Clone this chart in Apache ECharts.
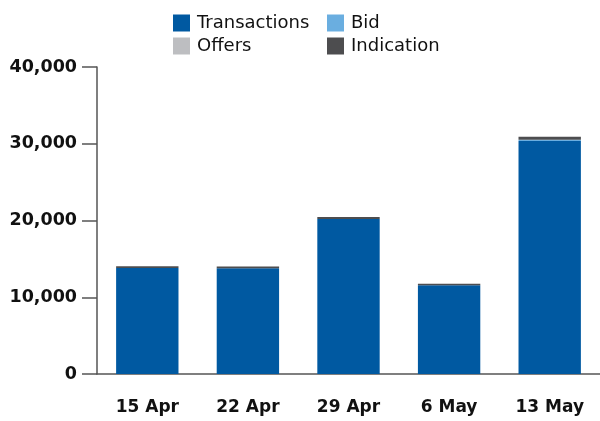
<!DOCTYPE html>
<html>
<head>
<meta charset="utf-8">
<title>Weekly volumes</title>
<style>
  html, body { margin: 0; padding: 0; background: #fff; }
  #chart { width: 600px; height: 421px; }
</style>
<script src="https://cdn.jsdelivr.net/npm/echarts@6/dist/echarts.min.js"></script>
</head>
<body>
<div id="chart"></div>
<script>
// weeks on the x axis
var weeks = ['15 Apr', '22 Apr', '29 Apr', '6 May', '13 May'];

// stacked values, bottom to top
var transactions = [13810, 13790, 20200, 11560, 30360];
var bid = [0, 0, 0, 0, 160];
var offers = [0, 0, 0, 0, 0];
var indication = [220, 220, 260, 210, 390];

var yTicks = [0, 10000, 20000, 30000, 40000];

var colors = {
  Transactions: '#0059a1',
  Bid: '#6aaee0',
  Offers: '#bdbec1',
  Indication: '#4d4d4f'
};

var font = 'DejaVu Sans';

function bar(name, values) {
  return {
    name: name,
    type: 'bar',
    stack: 'total',
    barWidth: '62%',
    itemStyle: { color: colors[name] },
    data: values
  };
}

var legendBase = {
  orient: 'vertical',
  top: 9,
  itemWidth: 17,
  itemHeight: 17,
  itemGap: 5,
  icon: 'rect',
  textStyle: { fontFamily: font, fontSize: 18, color: '#111', padding: [0, 0, 0, 2] }
};

var chart = echarts.init(document.getElementById('chart'));
chart.setOption({
  animation: false,
  legend: [
    Object.assign({}, legendBase, { left: 168, data: ['Transactions', 'Offers'] }),
    Object.assign({}, legendBase, { left: 322, data: ['Bid', 'Indication'] })
  ],
  grid: { left: 97, right: 0, top: 67, bottom: 47 },
  xAxis: {
    type: 'category',
    data: weeks,
    axisLine: { lineStyle: { color: '#555', width: 1.5 } },
    axisTick: { alignWithLabel: true, length: 15, lineStyle: { color: '#555', width: 1.5 } },
    axisLabel: { margin: 25, fontFamily: font, fontSize: 17, fontWeight: 'bold', color: '#111' }
  },
  yAxis: {
    type: 'value',
    min: yTicks[0],
    max: yTicks[yTicks.length - 1],
    interval: 10000,
    splitLine: { show: false },
    axisLine: { show: true, lineStyle: { color: '#555', width: 1.5 } },
    axisTick: { show: true, length: 15, lineStyle: { color: '#555', width: 1.5 } },
    axisLabel: {
      margin: 20,
      fontFamily: font,
      fontSize: 17.5,
      fontWeight: 'bold',
      color: '#111',
      formatter: function (v) { return v.toLocaleString('en-US'); }
    }
  },
  series: [
    bar('Transactions', transactions),
    bar('Bid', bid),
    bar('Offers', offers),
    bar('Indication', indication)
  ]
});
</script>
</body>
</html>
